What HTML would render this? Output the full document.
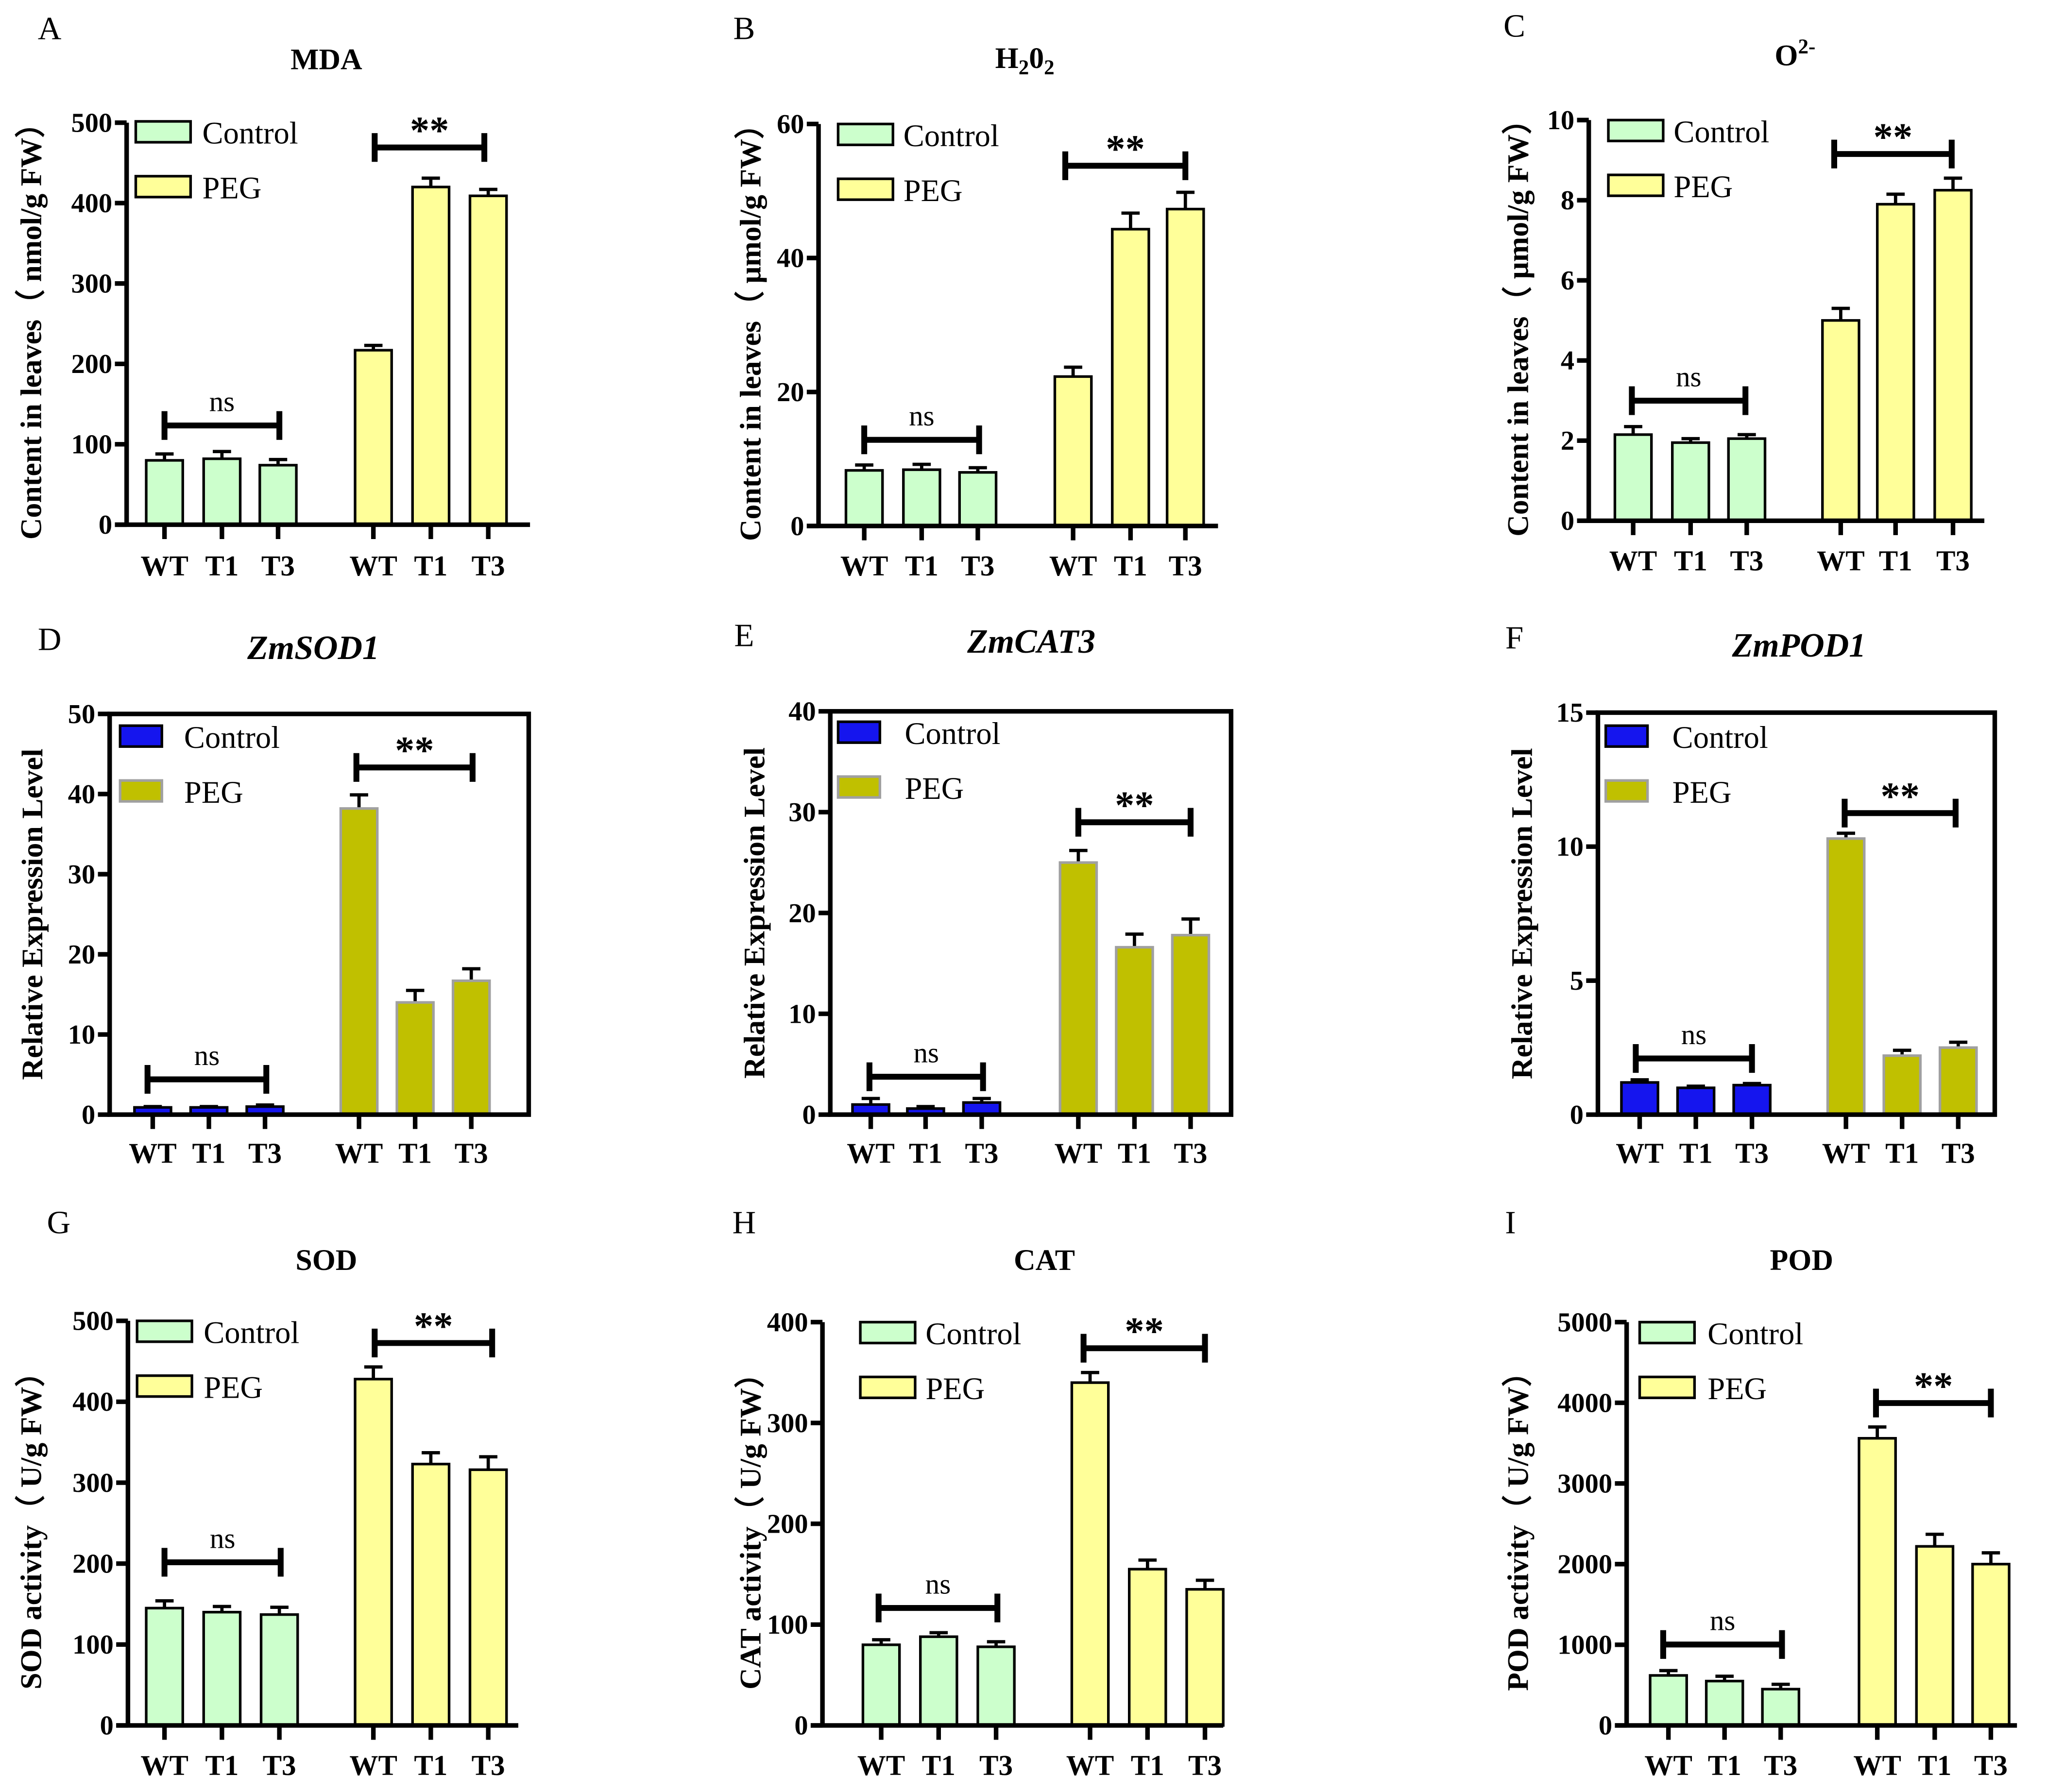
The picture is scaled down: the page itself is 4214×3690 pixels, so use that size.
<!DOCTYPE html>
<html><head><meta charset="utf-8"><style>
html,body{margin:0;padding:0;background:#fff}
svg{display:block}
text{font-family:"Liberation Serif",serif;fill:#000}
</style></head><body>
<svg id="fig" width="4214" height="3690" viewBox="0 0 1568 1373" preserveAspectRatio="none" xmlns="http://www.w3.org/2000/svg"></svg>
<script>
const groups = ["WT","T1","T3"];
const mdaCtrl=[80,82,74], mdaCtrlErr=[8,9,7], mdaPeg=[217,420,409], mdaPegErr=[6,11,8];
const h2o2Ctrl=[8.3,8.4,8.0], h2o2CtrlErr=[0.8,0.8,0.7], h2o2Peg=[22.3,44.3,47.3], h2o2PegErr=[1.4,2.4,2.5];
const o2Ctrl=[2.15,1.95,2.05], o2CtrlErr=[0.2,0.1,0.1], o2Peg=[5.0,7.9,8.25], o2PegErr=[0.3,0.25,0.3];
const sod1Ctrl=[0.9,0.9,1.0], sod1CtrlErr=[0.1,0.1,0.2], sod1Peg=[38.2,14.0,16.7], sod1PegErr=[1.7,1.5,1.5];
const cat3Ctrl=[1.0,0.6,1.2], cat3CtrlErr=[0.6,0.2,0.4], cat3Peg=[25.0,16.6,17.8], cat3PegErr=[1.2,1.3,1.6];
const pod1Ctrl=[1.2,1.0,1.1], pod1CtrlErr=[0.1,0.06,0.06], pod1Peg=[10.3,2.2,2.5], pod1PegErr=[0.2,0.2,0.2];
const sodCtrl=[145,140,137], sodCtrlErr=[9,7,9], sodPeg=[428,323,316], sodPegErr=[15,14,16];
const catCtrl=[80,88,78], catCtrlErr=[5,4,5], catPeg=[340,155,135], catPegErr=[10,9,9];
const podCtrl=[620,550,450], podCtrlErr=[60,60,60], podPeg=[3560,2220,2000], podPegErr=[140,150,140];
const ticksA=[0,100,200,300,400,500], ticksB=[0,20,40,60], ticksC=[0,2,4,6,8,10];
const ticksD=[0,10,20,30,40,50], ticksE=[0,10,20,30,40], ticksF=[0,5,10,15];
const ticksG=[0,100,200,300,400,500], ticksH=[0,100,200,300,400], ticksI=[0,1000,2000,3000,4000,5000];
const ns="http://www.w3.org/2000/svg";
const svg=document.getElementById('fig');
function el(tag,attrs,parent,txt){const e=document.createElementNS(ns,tag);for(const k in attrs)e.setAttribute(k,attrs[k]);if(txt!==undefined)e.textContent=txt;(parent||svg).appendChild(e);return e;}

const green={c:"#ccffcc",cs:"#000",p:"#ffff99",ps:"#000"};
const blue={c:"#1515ee",cs:"#000",p:"#c0c000",ps:"#a0a0a0"};
const panels=[
 {id:"a",letter:"A",lx:38,ly:30,title:"MDA",tx:250,ty:53,ax:97,y0:402,y1:94,xe:406,ticks:ticksA,ctrl:mdaCtrl,ce:mdaCtrlErr,peg:mdaPeg,pe:mdaPegErr,cx:[126,170,213,286,330,374],nsY:326,nsX:[126,214],stY:113,stX:[287,371],legX:104,legY:93,legTX:155,col:green,yl:"Content in leaves（ nmol/g FW）",ylx:24,xly:441,box:false},
 {id:"b",letter:"B",lx:570,ly:30,title:"H2O2",tx:785,ty:52,ax:627,y0:403,y1:95,xe:933,ticks:ticksB,ctrl:h2o2Ctrl,ce:h2o2CtrlErr,peg:h2o2Peg,pe:h2o2PegErr,cx:[662,706,749,822,866,908],nsY:337,nsX:[662,750],stY:127,stX:[816,908],legX:642,legY:95,legTX:692,col:green,yl:"Content in leaves（ μmol/g FW）",ylx:575,xly:441,box:false},
 {id:"c",letter:"C",lx:1160,ly:28,title:"O2-",tx:1375,ty:50,ax:1217,y0:399,y1:92,xe:1520,ticks:ticksC,ctrl:o2Ctrl,ce:o2CtrlErr,peg:o2Peg,pe:o2PegErr,cx:[1251,1295,1338,1410,1452,1496],nsY:307,nsX:[1250,1337],stY:118,stX:[1405,1495],legX:1232,legY:92,legTX:1282,col:green,yl:"Content in leaves（ μmol/g FW）",ylx:1163,xly:437,box:false},
 {id:"d",letter:"D",lx:38,ly:498,title:"ZmSOD1",it:true,tx:240,ty:505,ax:84,y0:854,y1:547,xe:405,ticks:ticksD,ctrl:sod1Ctrl,ce:sod1CtrlErr,peg:sod1Peg,pe:sod1PegErr,cx:[117,160,203,275,318,361],nsY:827,nsX:[113,204],stY:588,stX:[273,362],legX:92,legY:556,legTX:141,col:blue,yl:"Relative Expression Level",ylx:25,xly:891,box:true},
 {id:"e",letter:"E",lx:570,ly:495,title:"ZmCAT3",it:true,tx:790,ty:500,ax:636,y0:854,y1:545,xe:943,ticks:ticksE,ctrl:cat3Ctrl,ce:cat3CtrlErr,peg:cat3Peg,pe:cat3PegErr,cx:[667,709,752,826,869,912],nsY:825,nsX:[666,753],stY:630,stX:[826,912],legX:642,legY:553,legTX:693,col:blue,yl:"Relative Expression Level",ylx:578,xly:891,box:true},
 {id:"f",letter:"F",lx:1160,ly:497,title:"ZmPOD1",it:true,tx:1378,ty:503,ax:1224,y0:854,y1:546,xe:1528,ticks:ticksF,ctrl:pod1Ctrl,ce:pod1CtrlErr,peg:pod1Peg,pe:pod1PegErr,cx:[1256,1299,1342,1414,1457,1500],nsY:811,nsX:[1253,1342],stY:623,stX:[1413,1498],legX:1230,legY:556,legTX:1281,col:blue,yl:"Relative Expression Level",ylx:1166,xly:891,box:true},
 {id:"g",letter:"G",lx:45,ly:945,title:"SOD",tx:250,ty:973,ax:98,y0:1322,y1:1012,xe:397,ticks:ticksG,ctrl:sodCtrl,ce:sodCtrlErr,peg:sodPeg,pe:sodPegErr,cx:[126,170,214,286,330,374],nsY:1197,nsX:[126,215],stY:1029,stX:[287,377],legX:105,legY:1012,legTX:156,col:green,yl:"SOD activity（ U/g FW）",ylx:24,xly:1360,box:false},
 {id:"h",letter:"H",lx:570,ly:945,title:"CAT",tx:800,ty:973,ax:630,y0:1322,y1:1013,xe:937,ticks:ticksH,ctrl:catCtrl,ce:catCtrlErr,peg:catPeg,pe:catPegErr,cx:[675,719,763,835,879,923],nsY:1232,nsX:[673,764],stY:1033,stX:[830,923],legX:659,legY:1013,legTX:709,col:green,yl:"CAT activity（ U/g FW）",ylx:575,xly:1360,box:false},
 {id:"i",letter:"I",lx:1157,ly:945,title:"POD",tx:1380,ty:973,ax:1246,y0:1322,y1:1013,xe:1545,ticks:ticksI,ctrl:podCtrl,ce:podCtrlErr,peg:podPeg,pe:podPegErr,cx:[1278,1321,1364,1438,1482,1525],nsY:1260,nsX:[1274,1365],stY:1075,stX:[1437,1525],legX:1256,legY:1013,legTX:1308,col:green,yl:"POD activity（ U/g FW）",ylx:1163,xly:1360,box:false}
];

panels.forEach(p=>{
 const g=el('g',{});
 
 
 const max=p.ticks[p.ticks.length-1];
 const Y=v=>p.y0-(v/max)*(p.y0-p.y1);
 const L=el('text',{x:p.lx,y:p.ly,'font-size':25,'text-anchor':'middle'},g,p.letter);
 
 
 let T;
 if(p.title==="H2O2"){
  T=el('text',{x:p.tx,y:p.ty,'font-size':23,'font-weight':'bold','text-anchor':'middle'},g);
  el('tspan',{},T,'H');el('tspan',{dy:5,'font-size':16},T,'2');el('tspan',{dy:-5},T,'0');el('tspan',{dy:5,'font-size':16},T,'2');
 } else if(p.title==="O2-"){
  T=el('text',{x:p.tx,y:p.ty,'font-size':23,'font-weight':'bold','text-anchor':'middle'},g);
  el('tspan',{},T,'O');el('tspan',{dy:-9,'font-size':16},T,'2-');
 } else {
  T=el('text',{x:p.tx,y:p.ty,'font-size':p.it?26:23,'font-weight':'bold','font-style':p.it?'italic':'normal','text-anchor':'middle'},g,p.title);
 }
 
 
 const yc=(p.y0+p.y1)/2;
 const YL=el('text',{x:p.ylx,y:yc,'font-size':23,'font-weight':'bold','text-anchor':'middle',transform:`rotate(-90 ${p.ylx} ${yc})`,'dominant-baseline':'central'},g,p.yl);
 
 
 const vals=p.ctrl.concat(p.peg), errs=p.ce.concat(p.pe);
 vals.forEach((v,i)=>{
  const isC=i<3;
  const x=p.cx[i];
  const eb=el('line',{x1:x,x2:x,y1:Y(v),y2:Y(v+errs[i]),stroke:'#000','stroke-width':2.5},g);
  
  
  const cap=el('line',{x1:x-7,x2:x+7,y1:Y(v+errs[i]),y2:Y(v+errs[i]),stroke:'#000','stroke-width':2.5},g);
  
  
  const r=el('rect',{x:x-14,y:Y(v),width:28,height:p.y0-Y(v),fill:isC?p.col.c:p.col.p,stroke:isC?p.col.cs:p.col.ps,'stroke-width':2},g);
  
  
  const tk=el('line',{x1:x,x2:x,y1:p.y0,y2:p.y0+11,stroke:'#000','stroke-width':3.5},g);
  
  
  const xl=el('text',{x:x,y:p.xly,'font-size':22,'font-weight':'bold','text-anchor':'middle'},g,groups[i%3]);
  
  
 });
 if(p.box){
  const fr=el('rect',{x:p.ax,y:p.y1,width:p.xe-p.ax,height:p.y0-p.y1,fill:'none',stroke:'#000','stroke-width':3.5},g);
  
  
 } else {
  const ya=el('line',{x1:p.ax,x2:p.ax,y1:p.y1,y2:p.y0,stroke:'#000','stroke-width':3.5},g);
  
  
  const xa=el('line',{x1:p.ax-9,x2:p.xe,y1:p.y0,y2:p.y0,stroke:'#000','stroke-width':3.5},g);
  
  
 }
 p.ticks.forEach(t=>{
  const tl=el('line',{x1:p.ax-9,x2:p.ax,y1:Y(t),y2:Y(t),stroke:'#000','stroke-width':3.5},g);
  
  
  const tt=el('text',{x:p.ax-11,y:Y(t)+7,'font-size':21,'font-weight':'bold','text-anchor':'end'},g,String(t));
  
  
 });
 [[p.nsY,p.nsX,'ns','ns-bracket',22,'normal',-11],[p.stY,p.stX,'**','sig-bracket',30,'bold',-3]].forEach(b=>{
  const [yy,xs,lab,nm,fs,fw,off]=b;
  const bg=el('g',{},g);
  
  
  el('line',{x1:xs[0],x2:xs[1],y1:yy,y2:yy,stroke:'#000','stroke-width':4.5},bg);
  el('line',{x1:xs[0],x2:xs[0],y1:yy-11,y2:yy+11,stroke:'#000','stroke-width':4.5},bg);
  el('line',{x1:xs[1],x2:xs[1],y1:yy-11,y2:yy+11,stroke:'#000','stroke-width':4.5},bg);
  el('text',{x:(xs[0]+xs[1])/2,y:yy+off,'font-size':fs,'font-weight':fw,'text-anchor':'middle'},bg,lab);
 });
 const lg=el('g',{},g);
 
 
 [['Control',p.col.c,p.col.cs,0],['PEG',p.col.p,p.col.ps,42]].forEach(e=>{
  const le=el('g',{},lg);
  
  
  el('rect',{x:p.legX,y:p.legY+e[3],width:p.box?32:42,height:16,fill:e[1],stroke:e[2],'stroke-width':2},le);
  el('text',{x:p.legTX,y:p.legY+e[3]+17,'font-size':24},le,e[0]);
 });
});
</script>
</body></html>
